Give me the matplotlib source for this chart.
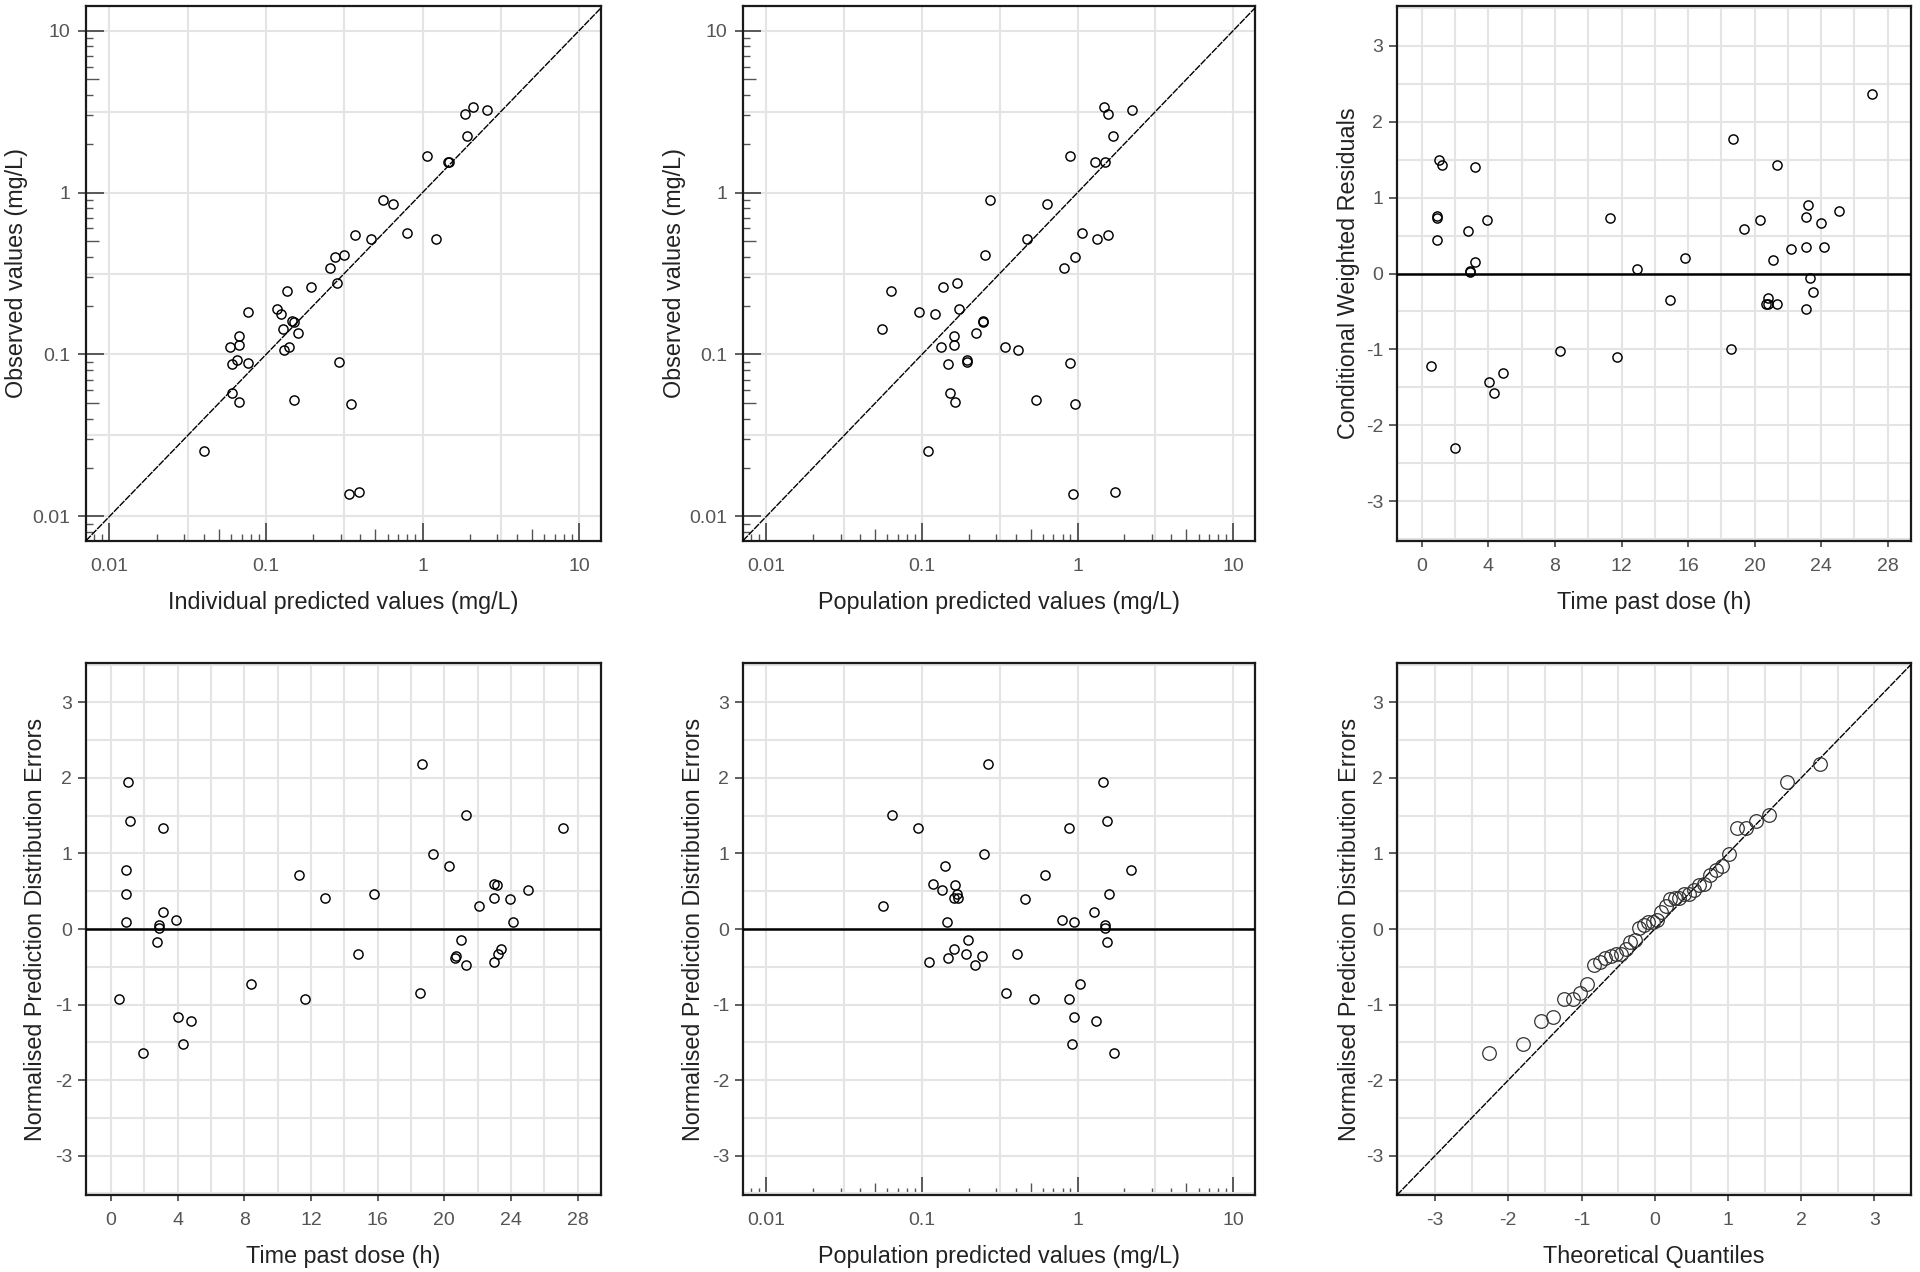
import numpy as np
import matplotlib
matplotlib.use("Agg")
import matplotlib.pyplot as plt
from matplotlib.ticker import LogLocator, MultipleLocator, NullFormatter, FixedLocator
from statistics import NormalDist

# ---------------- data ----------------
obs = [3.36, 3.24, 3.05, 2.24, 1.68, 1.54, 1.54, 0.90, 0.846, 0.564, 0.547, 0.514, 0.514,
       0.414, 0.402, 0.343, 0.277, 0.262, 0.247, 0.190, 0.183, 0.178, 0.160, 0.158, 0.144,
       0.135, 0.130, 0.115, 0.111, 0.111, 0.107, 0.092, 0.0895, 0.0885, 0.0868, 0.0577,
       0.0527, 0.0510, 0.0494, 0.0255, 0.0141, 0.0137]
ipred = [2.11, 2.57, 1.88, 1.93, 1.07, 1.46, 1.48, 0.562, 0.643, 0.80, 0.372, 0.466, 1.22,
         0.316, 0.277, 0.258, 0.285, 0.194, 0.136, 0.118, 0.0762, 0.125, 0.147, 0.150, 0.128,
         0.160, 0.0675, 0.0675, 0.140, 0.0586, 0.131, 0.0648, 0.294, 0.0762, 0.061, 0.061,
         0.150, 0.0675, 0.348, 0.0401, 0.395, 0.337]
pred = [1.47, 2.25, 1.57, 1.68, 0.90, 1.29, 1.51, 0.273, 0.632, 1.06, 1.57, 0.473, 1.33,
        0.254, 0.968, 0.818, 0.167, 0.136, 0.0635, 0.172, 0.0964, 0.122, 0.248, 0.248, 0.0557,
        0.224, 0.161, 0.161, 0.133, 0.340, 0.416, 0.196, 0.196, 0.90, 0.147, 0.151,
        0.537, 0.163, 0.968, 0.110, 1.73, 0.931]

cw_time = [27.05, 18.71, 21.37, 1.05, 1.20, 3.16, 0.93, 0.93, 3.94, 11.32, 2.75, 0.93, 3.16,
           2.89, 2.89, 12.93, 15.82, 14.91, 19.37, 20.30, 21.08, 22.16, 23.08, 23.08, 23.23,
           24.01, 24.16, 25.05, 23.33, 23.50, 23.08, 20.81, 20.71, 20.81, 21.37, 18.58, 8.30,
           11.73, 0.52, 4.87, 4.05, 4.36, 1.96]
cwres = [2.357, 1.776, 1.431, 1.493, 1.431, 1.398, 0.751, 0.73, 0.699, 0.727, 0.553, 0.435,
         0.146, 0.038, 0.02, 0.061, 0.208, -0.35, 0.581, 0.699, 0.175, 0.321, 0.350, 0.737,
         0.902, 0.666, 0.350, 0.817, -0.057, -0.246, -0.463, -0.316, -0.406, -0.406, -0.406,
         -0.987, -1.020, -1.105, -1.223, -1.308, -1.427, -1.568, -2.296]

npde = [2.18, 1.95, 1.51, 1.43, 1.34, 1.34, 0.99, 0.84, 0.78, 0.72, 0.60, 0.58, 0.52, 0.46,
        0.46, 0.41, 0.41, 0.40, 0.31, 0.23, 0.12, 0.09, 0.09, 0.05, 0.01, -0.15, -0.17, -0.27,
        -0.33, -0.33, -0.36, -0.38, -0.44, -0.47, -0.73, -0.85, -0.93, -0.93, -1.17, -1.22,
        -1.52, -1.64]
np_time = [18.68, 1.03, 21.32, 1.13, 3.14, 27.09, 19.31, 20.26, 0.87, 11.30, 23.0, 23.14, 25.0,
           0.87, 15.79, 12.85, 23.0, 23.91, 22.08, 3.14, 3.91, 24.09, 0.87, 2.85, 2.85, 21.01,
           2.75, 23.38, 14.84, 23.24, 20.71, 20.65, 23.0, 21.32, 8.40, 18.54, 11.66, 0.49,
           4.01, 4.82, 4.31, 1.92]
np_pred = [0.267, 1.45, 0.0641, 1.54, 0.0946, 0.885, 0.251, 0.140, 2.20, 0.621, 0.117, 0.163,
           0.134, 0.168, 1.59, 0.171, 0.160, 0.462, 0.0561, 1.28, 0.790, 0.145, 0.953, 1.50,
           1.50, 0.199, 1.54, 0.160, 0.192, 0.406, 0.243, 0.148, 0.111, 0.220, 1.04, 0.346,
           0.525, 0.885, 0.948, 1.32, 0.916, 1.71]

log_ticks = [0.01, 0.1, 1, 10]
log_labels = ["0.01", "0.1", "1", "10"]
log_mid_ticks = [0.005, 0.05, 0.5, 5]
log_grid = [0.01, 0.0316, 0.1, 0.316, 1, 3.16, 10]
time_ticks = [0, 4, 8, 12, 16, 20, 24, 28]
res_ticks = [-3, -2, -1, 0, 1, 2, 3]

# ---------------- style ----------------
plt.rcParams["font.family"] = ["Liberation Sans", "DejaVu Sans"]
plt.rcParams["axes.unicode_minus"] = False
GRID = "#e4e4e4"
TICKC = "#555555"
LABC = "#222222"
TICK_FS = 14
LAB_FS = 16.8

W, H = 1920, 1272
fig = plt.figure(figsize=(W / 100, H / 100), dpi=100)

col_x = [86, 743, 1397]
col_w = [515, 512, 514]
row_y = [6, 663]
row_h = [535, 532]


def make_ax(c, r):
    l, t, w, h = col_x[c], row_y[r], col_w[c], row_h[r]
    ax = fig.add_axes([l / W, 1 - (t + h) / H, w / W, h / H])
    for s in ax.spines.values():
        s.set_linewidth(1.6)
        s.set_color("#1a1a1a")
    return ax


def log_x(ax):
    ax.set_xscale("log")
    ax.set_xlim(10 ** -2.15, 10 ** 1.14)
    ax.xaxis.set_major_locator(FixedLocator(log_ticks))
    ax.set_xticklabels(log_labels)
    ax.xaxis.set_minor_locator(LogLocator(base=10, subs=[2, 3, 4, 6, 7, 8, 9], numticks=20))
    ax.xaxis.set_minor_formatter(NullFormatter())
    ax.tick_params(axis="x", which="major", direction="in", length=13, width=1.1,
                   pad=12, labelsize=TICK_FS, labelcolor=TICKC, color="#333333")
    ax.tick_params(axis="x", which="minor", direction="in", length=5, width=1.0, color="#555555")
    sec = ax.secondary_xaxis("bottom")
    sec.set_xticks(log_mid_ticks)
    sec.tick_params(axis="x", which="major", direction="in", length=9, width=1.0,
                    labelbottom=False, color="#555555")
    sec.tick_params(axis="x", which="minor", length=0)
    sec.spines["bottom"].set_visible(False)
    for v in log_grid:
        ax.axvline(v, color=GRID, lw=1.5, zorder=0)


def log_y(ax):
    ax.set_yscale("log")
    ax.set_ylim(10 ** -2.152, 10 ** 1.152)
    ax.yaxis.set_major_locator(FixedLocator(log_ticks))
    ax.set_yticklabels(log_labels)
    ax.yaxis.set_minor_locator(LogLocator(base=10, subs=[2, 3, 4, 6, 7, 8, 9], numticks=20))
    ax.yaxis.set_minor_formatter(NullFormatter())
    ax.tick_params(axis="y", which="major", direction="in", length=13, width=1.1,
                   pad=11, labelsize=TICK_FS, labelcolor=TICKC, color="#333333")
    ax.tick_params(axis="y", which="minor", direction="in", length=5, width=1.0, color="#555555")
    sec = ax.secondary_yaxis("left")
    sec.set_yticks(log_mid_ticks)
    sec.tick_params(axis="y", which="major", direction="in", length=9, width=1.0,
                    labelleft=False, color="#555555")
    sec.tick_params(axis="y", which="minor", length=0)
    sec.spines["left"].set_visible(False)
    sec2 = ax.secondary_yaxis("left")
    sec2.set_yticks(log_ticks)
    sec2.tick_params(axis="y", which="major", direction="out", length=6, width=1.1,
                     labelleft=False, color="#333333")
    sec2.tick_params(axis="y", which="minor", length=0)
    sec2.spines["left"].set_visible(False)
    for v in log_grid:
        ax.axhline(v, color=GRID, lw=1.5, zorder=0)


def lin_x_time(ax):
    ax.set_xlim(-1.5, 29.4)
    ax.xaxis.set_major_locator(FixedLocator(time_ticks))
    ax.xaxis.set_minor_locator(MultipleLocator(2))
    ax.tick_params(axis="x", which="major", direction="out", length=4, width=1.1, pad=8,
                   labelsize=TICK_FS, labelcolor=TICKC, color="#333333")
    ax.tick_params(axis="x", which="minor", length=0)
    ax.grid(axis="x", which="both", color=GRID, lw=1.5)


def lin_y_res(ax):
    ax.set_ylim(-3.52, 3.52)
    ax.yaxis.set_major_locator(FixedLocator(res_ticks))
    ax.yaxis.set_minor_locator(MultipleLocator(0.5))
    ax.tick_params(axis="y", which="major", direction="out", length=6, width=1.1, pad=4,
                   labelsize=TICK_FS, labelcolor=TICKC, color="#333333")
    ax.tick_params(axis="y", which="minor", length=0)
    ax.grid(axis="y", which="both", color=GRID, lw=1.5)


def labels(ax, xl, yl, ydist, xdist=61):
    ax.set_xlabel(xl, fontsize=LAB_FS, color=LABC)
    ax.set_ylabel(yl, fontsize=LAB_FS, color=LABC)
    bb = ax.get_position()
    wpx = bb.width * W
    hpx = bb.height * H
    ax.xaxis.set_label_coords(0.5, -xdist / hpx)
    ax.xaxis.label.set_verticalalignment("center")
    ax.yaxis.set_label_coords(-ydist / wpx, 0.5)
    ax.yaxis.label.set_verticalalignment("center")
    ax.set_axisbelow(True)


def pts(ax, x, y):
    ax.plot(x, y, "o", mfc="none", mec="black", ms=6.6, mew=1.05, zorder=4, clip_on=False)


# Panel 1: OBS vs IPRED
ax1 = make_ax(0, 0)
log_x(ax1)
log_y(ax1)
ax1.axline((0.01, 0.01), (1, 1), color="black", lw=1.0, ls=(0, (5, 0.8)), zorder=3)
pts(ax1, ipred, obs)
labels(ax1, "Individual predicted values (mg/L)", "Observed values (mg/L)", 69)

# Panel 2: OBS vs PRED
ax2 = make_ax(1, 0)
log_x(ax2)
log_y(ax2)
ax2.axline((0.01, 0.01), (1, 1), color="black", lw=1.0, ls=(0, (5, 0.8)), zorder=3)
pts(ax2, pred, obs)
labels(ax2, "Population predicted values (mg/L)", "Observed values (mg/L)", 68)

# Panel 3: CWRES vs time
ax3 = make_ax(2, 0)
lin_x_time(ax3)
lin_y_res(ax3)
ax3.axhline(0, color="black", lw=1.8, zorder=3)
pts(ax3, cw_time, cwres)
labels(ax3, "Time past dose (h)", "Conditional Weighted Residuals", 49)

# Panel 4: NPDE vs time
ax4 = make_ax(0, 1)
lin_x_time(ax4)
lin_y_res(ax4)
ax4.axhline(0, color="black", lw=1.8, zorder=3)
pts(ax4, np_time, npde)
labels(ax4, "Time past dose (h)", "Normalised Prediction Distribution Errors", 50)

# Panel 5: NPDE vs PRED
ax5 = make_ax(1, 1)
log_x(ax5)
lin_y_res(ax5)
ax5.axhline(0, color="black", lw=1.8, zorder=3)
pts(ax5, np_pred, npde)
labels(ax5, "Population predicted values (mg/L)", "Normalised Prediction Distribution Errors", 50)

# Panel 6: QQ plot of NPDE
ax6 = make_ax(2, 1)
n = len(npde)
npde_sorted = sorted(npde)
theo = [NormalDist().inv_cdf((i + 0.5) / n) for i in range(n)]
ax6.set_xlim(-3.52, 3.5)
ax6.xaxis.set_major_locator(FixedLocator(res_ticks))
ax6.xaxis.set_minor_locator(MultipleLocator(0.5))
ax6.tick_params(axis="x", which="major", direction="out", length=4, width=1.1, pad=8,
                labelsize=TICK_FS, labelcolor=TICKC, color="#333333")
ax6.tick_params(axis="x", which="minor", length=0)
ax6.grid(axis="x", which="both", color=GRID, lw=1.5)
lin_y_res(ax6)
ax6.axline((0, 0), slope=1, color="black", lw=1.0, ls=(0, (5, 0.8)), zorder=3)
ax6.plot(theo, npde_sorted, "o", mfc="none", mec="#333333", ms=9.8, mew=0.9, zorder=4)
labels(ax6, "Theoretical Quantiles", "Normalised Prediction Distribution Errors", 48)

fig.savefig("out.png", dpi=100)
